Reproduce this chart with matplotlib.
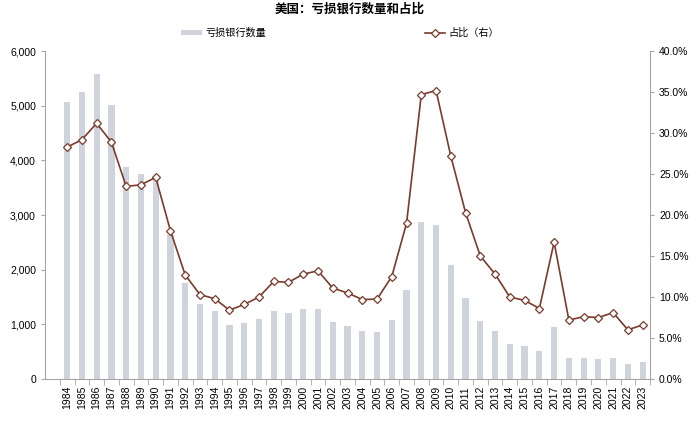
import numpy as np
import matplotlib.pyplot as plt
from matplotlib.ticker import FuncFormatter, MultipleLocator

plt.rcParams['font.family'] = ['Liberation Sans', 'Noto Sans CJK SC', 'DejaVu Sans']

years = list(range(1984, 2024))
loss_banks = [5064, 5247, 5576, 5010, 3876, 3748, 3693, 2633, 1760, 1370,
              1243, 987, 1030, 1097, 1243, 1200, 1273, 1273, 1036, 969,
              872, 860, 1079, 1627, 2876, 2815, 2078, 1487, 1066, 872,
              640, 597, 512, 950, 390, 390, 372, 390, 280, 305]
loss_share = [28.3, 29.2, 31.2, 28.9, 23.5, 23.7, 24.6, 18.1, 12.7, 10.3,
              9.8, 8.4, 9.1, 10.0, 11.9, 11.8, 12.8, 13.2, 11.1, 10.5,
              9.7, 9.75, 12.5, 19.0, 34.7, 35.2, 27.2, 20.3, 15.0, 12.8,
              10.0, 9.6, 8.6, 16.7, 7.2, 7.6, 7.5, 8.1, 6.0, 6.6]

bar_color = '#cfd3dc'
line_color = '#7a3b2c'
axis_color = '#a6a6a6'

fig = plt.figure(figsize=(7, 4.23), dpi=100)
ax1 = fig.add_axes([0.0643, 0.104, 0.8643, 0.775])
ax2 = ax1.twinx()

x = np.arange(len(years))
bars = ax1.bar(x, loss_banks, width=0.42, color=bar_color, label='亏损银行数量', zorder=1)
line, = ax2.plot(x, loss_share, color=line_color, lw=1.2, marker='D', markersize=4.5,
                 markerfacecolor='white', markeredgecolor=line_color, markeredgewidth=0.9,
                 label='占比（右）', zorder=3)

# one empty slot on the left, like the original
ax1.set_xlim(-1.5, len(years) - 0.5)
ax1.set_ylim(0, 6000)
ax2.set_ylim(0, 40)
ax1.yaxis.set_major_locator(MultipleLocator(1000))
ax2.yaxis.set_major_locator(MultipleLocator(5))
ax1.yaxis.set_major_formatter(FuncFormatter(lambda v, p: '{:,.0f}'.format(v)))
ax2.yaxis.set_major_formatter(FuncFormatter(lambda v, p: '{:.1f}%'.format(v)))

ax1.set_xticks(x)
ax1.set_xticklabels([str(y) for y in years], rotation=90, fontsize=7.5)
ax1.set_xticks(np.arange(-0.5, len(years), 1), minor=True)
ax1.tick_params(axis='x', which='major', length=0, pad=5)
ax1.tick_params(axis='x', which='minor', length=4, color=axis_color)
ax1.tick_params(axis='y', labelsize=7.5, length=3, color=axis_color)
ax2.tick_params(axis='y', labelsize=7.5, length=3, color=axis_color)

for ax in (ax1, ax2):
    ax.spines['top'].set_visible(False)
    for s in ('left', 'right', 'bottom'):
        ax.spines[s].set_color(axis_color)
ax1.spines['right'].set_visible(False)
ax2.spines['left'].set_visible(False)
ax2.spines['bottom'].set_visible(False)

ax1.set_zorder(ax2.get_zorder() - 1)
ax2.patch.set_visible(False)

fig.legend([bars], ['亏损银行数量'], loc='center', bbox_to_anchor=(0.32, 0.922),
           frameon=False, fontsize=7.3, handlelength=2.0, handleheight=0.45,
           handletextpad=0.4)
fig.legend([line], ['占比（右）'], loc='center', bbox_to_anchor=(0.66, 0.922),
           frameon=False, fontsize=7.3, handlelength=2.0, handletextpad=0.4)

fig.text(0.5, 0.978, '美国：亏损银行数量和占比', ha='center', va='center',
         fontsize=9, fontweight='bold')

plt.savefig('out.png', dpi=100)
